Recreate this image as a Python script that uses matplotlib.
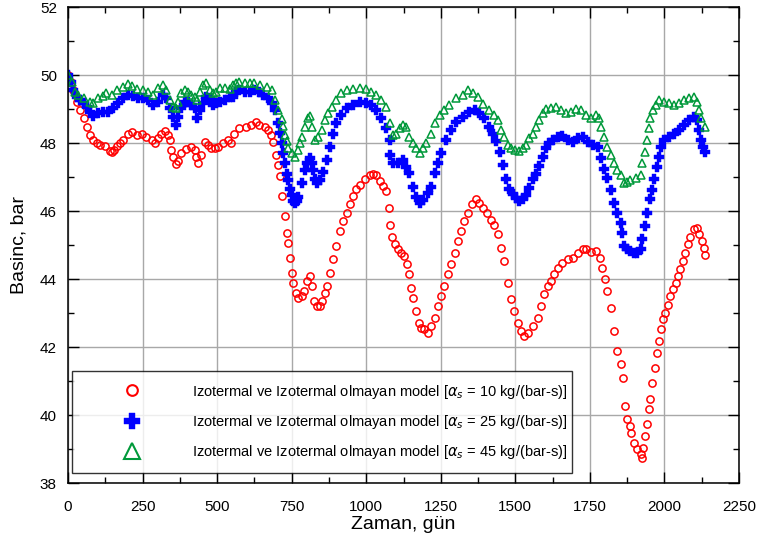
import numpy as np
import matplotlib
matplotlib.use("Agg")
import matplotlib.pyplot as plt
from matplotlib.lines import Line2D
from matplotlib.ticker import MultipleLocator

plt.rcParams['font.family'] = ['Liberation Sans', 'DejaVu Sans']

# alpha_s = 10 kg/(bar-s)
red_day = [0, 9, 18, 29, 40, 52, 63, 74, 85, 96, 107, 124, 140, 146, 155, 163, 174, 185, 202, 213,
           230, 247, 263, 280, 291, 302, 313, 324, 335, 341, 347, 352, 361, 369, 380, 397, 413, 425, 430, 436,
           447, 458, 469, 480, 492, 503, 519, 536, 547, 558, 575, 597, 614, 631, 642, 659, 670, 681, 687, 698,
           703, 711, 719, 726, 733, 739, 744, 750, 756, 764, 772, 783, 791, 800, 811, 817, 825, 834, 845, 853,
           861, 869, 878, 889, 900, 911, 923, 934, 945, 956, 967, 978, 995, 1012, 1023, 1034, 1045, 1056, 1067, 1076,
           1081, 1087, 1095, 1106, 1117, 1128, 1136, 1143, 1151, 1156, 1168, 1177, 1184, 1195, 1207, 1218, 1229, 1240, 1251, 1262,
           1274, 1285, 1296, 1307, 1318, 1329, 1340, 1355, 1368, 1379, 1390, 1404, 1418, 1430, 1441, 1452, 1463, 1474, 1485, 1497,
           1508, 1519, 1530, 1541, 1558, 1575, 1586, 1597, 1608, 1619, 1630, 1642, 1658, 1675, 1692, 1709, 1726, 1737, 1753, 1770,
           1783, 1792, 1801, 1808, 1820, 1831, 1842, 1853, 1861, 1866, 1875, 1883, 1889, 1897, 1909, 1920, 1925, 1929, 1934, 1942,
           1948, 1953, 1959, 1967, 1976, 1981, 1987, 1994, 2003, 2012, 2020, 2028, 2037, 2046, 2053, 2061, 2070, 2079, 2087, 2098,
           2109, 2115, 2126, 2131, 2135]
red_p = [50.0, 49.8, 49.56, 49.2, 48.97, 48.73, 48.48, 48.24, 48.09, 47.99, 47.94, 47.9, 47.77, 47.75, 47.8, 47.9, 48.0, 48.09, 48.28, 48.33,
         48.24, 48.26, 48.19, 48.09, 47.99, 48.14, 48.26, 48.36, 48.24, 48.09, 47.79, 47.6, 47.38, 47.48, 47.7, 47.81, 47.89, 47.79, 47.6, 47.42,
         47.65, 48.04, 47.94, 47.84, 47.84, 47.89, 47.99, 48.09, 48.01, 48.28, 48.43, 48.48, 48.53, 48.63, 48.53, 48.48, 48.38, 48.24, 48.04, 47.65,
         47.35, 47.03, 46.44, 45.85, 45.36, 45.07, 44.63, 44.19, 43.89, 43.6, 43.45, 43.5, 43.65, 43.94, 44.09, 43.79, 43.35, 43.2, 43.2, 43.35,
         43.6, 43.79, 44.19, 44.58, 44.97, 45.41, 45.71, 45.95, 46.2, 46.44, 46.64, 46.78, 46.93, 47.05, 47.08, 47.05, 46.88, 46.74, 46.59, 46.1,
         45.58, 45.25, 45.02, 44.87, 44.77, 44.68, 44.43, 44.14, 43.75, 43.45, 43.06, 42.72, 42.57, 42.52, 42.42, 42.62, 42.86, 43.2, 43.5, 43.79,
         44.14, 44.43, 44.77, 45.12, 45.41, 45.71, 45.95, 46.2, 46.34, 46.25, 46.1, 45.95, 45.75, 45.6, 45.31, 44.92, 44.53, 43.89, 43.4, 43.06,
         42.72, 42.47, 42.32, 42.42, 42.62, 42.86, 43.2, 43.55, 43.79, 43.94, 44.14, 44.33, 44.48, 44.58, 44.63, 44.77, 44.87, 44.87, 44.79, 44.82,
         44.63, 44.33, 43.99, 43.65, 43.16, 42.47, 41.88, 41.49, 41.1, 40.26, 39.87, 39.68, 39.48, 39.19, 38.99, 38.84, 38.75, 39.04, 39.38, 39.73,
         40.17, 40.46, 40.95, 41.39, 41.83, 42.18, 42.52, 42.81, 43.01, 43.25, 43.5, 43.7, 43.89, 44.09, 44.28, 44.53, 44.77, 45.02, 45.25, 45.46,
         45.51, 45.31, 45.12, 44.92, 44.7]

# alpha_s = 25 kg/(bar-s)
blue_day = [0, 9, 18, 29, 40, 52, 63, 74, 85, 101, 118, 135, 152, 168, 185, 202, 219, 235, 252, 269,
            286, 302, 319, 330, 341, 352, 361, 369, 380, 391, 402, 413, 425, 433, 441, 452, 463, 475, 486, 497,
            508, 525, 542, 553, 564, 575, 592, 609, 625, 642, 655, 672, 683, 694, 705, 711, 716, 722, 728, 733,
            739, 745, 750, 756, 761, 767, 772, 783, 795, 803, 811, 817, 822, 828, 834, 845, 856, 867, 878, 889,
            900, 917, 934, 956, 978, 1000, 1017, 1034, 1051, 1067, 1078, 1081, 1090, 1106, 1123, 1134, 1145, 1156, 1168, 1179,
            1190, 1207, 1218, 1229, 1240, 1251, 1268, 1285, 1301, 1324, 1346, 1363, 1379, 1396, 1413, 1424, 1435, 1447, 1458, 1469,
            1480, 1491, 1502, 1513, 1525, 1536, 1547, 1558, 1569, 1580, 1591, 1602, 1614, 1625, 1642, 1658, 1675, 1692, 1709, 1726,
            1742, 1759, 1776, 1787, 1797, 1808, 1820, 1831, 1842, 1853, 1858, 1864, 1875, 1886, 1897, 1909, 1920, 1925, 1933, 1942,
            1950, 1957, 1964, 1976, 1981, 1987, 1998, 2014, 2031, 2048, 2065, 2081, 2098, 2109, 2117, 2124, 2128, 2135]
blue_p = [50.0, 49.8, 49.56, 49.36, 49.27, 49.17, 49.05, 48.92, 48.8, 48.87, 48.92, 48.92, 49.02, 49.17, 49.31, 49.41, 49.38, 49.31, 49.31, 49.26,
          49.12, 49.22, 49.41, 49.31, 49.02, 48.77, 48.53, 48.77, 49.02, 49.22, 49.22, 49.12, 49.02, 48.75, 48.97, 49.17, 49.36, 49.31, 49.12, 49.17,
          49.22, 49.26, 49.36, 49.36, 49.51, 49.56, 49.51, 49.51, 49.56, 49.51, 49.41, 49.31, 49.17, 48.97, 48.6, 48.3, 48.0, 47.7, 47.4, 47.1,
          46.9, 46.65, 46.47, 46.3, 46.23, 46.3, 46.42, 46.81, 47.2, 47.4, 47.55, 47.4, 47.2, 46.95, 46.81, 46.91, 47.16, 47.5, 47.89, 48.28,
          48.58, 48.82, 49.02, 49.12, 49.22, 49.19, 49.12, 48.97, 48.73, 48.43, 48.09, 47.65, 47.4, 47.4, 47.5, 47.3, 47.11, 46.71, 46.42, 46.23,
          46.32, 46.52, 46.71, 47.11, 47.4, 47.7, 48.09, 48.38, 48.63, 48.77, 48.92, 48.97, 48.87, 48.73, 48.48, 48.28, 48.05, 47.75, 47.35, 46.95,
          46.64, 46.49, 46.38, 46.3, 46.34, 46.48, 46.69, 46.93, 47.1, 47.32, 47.6, 47.85, 48.0, 48.09, 48.19, 48.21, 48.09, 48.04, 48.14, 48.19,
          48.04, 47.94, 47.89, 47.55, 47.25, 46.96, 46.62, 46.23, 45.93, 45.64, 45.36, 44.97, 44.87, 44.82, 44.77, 44.77, 44.87, 45.17, 45.56, 45.95,
          46.34, 46.62, 46.95, 47.3, 47.6, 47.89, 48.09, 48.19, 48.28, 48.38, 48.53, 48.68, 48.77, 48.68, 48.38, 48.09, 47.89, 47.75]

# alpha_s = 45 kg/(bar-s)
green_day = [0, 13, 24, 35, 52, 74, 85, 101, 118, 129, 146, 163, 185, 202, 213, 230, 252, 269, 286, 302,
             319, 330, 341, 352, 361, 369, 380, 391, 402, 413, 425, 433, 441, 452, 463, 475, 486, 497, 508, 525,
             542, 553, 564, 575, 592, 609, 625, 644, 666, 683, 694, 705, 716, 722, 728, 734, 739, 750, 761, 772,
             778, 783, 795, 806, 811, 817, 828, 839, 850, 861, 872, 884, 900, 917, 934, 956, 978, 1000, 1017, 1034,
             1051, 1067, 1078, 1090, 1101, 1112, 1123, 1134, 1145, 1156, 1168, 1179, 1190, 1201, 1218, 1229, 1246, 1262, 1279, 1301,
             1324, 1340, 1357, 1374, 1390, 1413, 1430, 1441, 1452, 1463, 1474, 1485, 1500, 1513, 1525, 1536, 1547, 1558, 1569, 1580,
             1591, 1602, 1619, 1636, 1653, 1670, 1686, 1703, 1720, 1737, 1753, 1770, 1781, 1787, 1797, 1808, 1820, 1831, 1842, 1853,
             1864, 1875, 1886, 1903, 1920, 1925, 1933, 1942, 1948, 1953, 1961, 1970, 1981, 1998, 2014, 2031, 2048, 2065, 2081, 2098,
             2109, 2115, 2124, 2137]
green_p = [50.0, 49.8, 49.51, 49.41, 49.31, 49.22, 49.19, 49.31, 49.38, 49.46, 49.41, 49.56, 49.66, 49.74, 49.68, 49.58, 49.56, 49.51, 49.41, 49.61,
           49.71, 49.56, 49.27, 49.07, 49.02, 49.22, 49.46, 49.56, 49.51, 49.41, 49.36, 49.27, 49.51, 49.71, 49.77, 49.56, 49.46, 49.51, 49.61, 49.61,
           49.58, 49.71, 49.76, 49.8, 49.76, 49.76, 49.77, 49.71, 49.66, 49.56, 49.26, 48.97, 48.7, 48.5, 48.25, 48.05, 47.85, 47.7, 47.6, 47.79,
           47.99, 48.19, 48.48, 48.73, 48.79, 48.48, 48.09, 48.19, 48.38, 48.68, 48.87, 49.07, 49.26, 49.46, 49.56, 49.58, 49.61, 49.58, 49.51, 49.41,
           49.26, 49.07, 48.58, 48.24, 48.28, 48.43, 48.53, 48.48, 48.19, 47.99, 47.84, 47.7, 47.84, 47.99, 48.28, 48.58, 48.82, 48.97, 49.12, 49.31,
           49.41, 49.56, 49.46, 49.36, 49.15, 48.97, 48.82, 48.68, 48.38, 48.19, 47.94, 47.84, 47.79, 47.77, 47.84, 47.94, 48.14, 48.28, 48.48, 48.68,
           48.87, 48.99, 49.02, 49.05, 48.97, 48.89, 48.92, 48.99, 48.97, 48.82, 48.75, 48.82, 48.73, 48.48, 48.19, 47.89, 47.65, 47.4, 47.21, 47.06,
           46.81, 46.86, 46.91, 46.96, 47.06, 47.4, 47.75, 48.09, 48.43, 48.73, 48.97, 49.12, 49.26, 49.22, 49.17, 49.12, 49.17, 49.26, 49.31, 49.36,
           49.22, 48.97, 48.73, 48.48]

labels = [r'Izotermal ve Izotermal olmayan model [$\alpha_s$ = 10 kg/(bar-s)]',
          r'Izotermal ve Izotermal olmayan model [$\alpha_s$ = 25 kg/(bar-s)]',
          r'Izotermal ve Izotermal olmayan model [$\alpha_s$ = 45 kg/(bar-s)]']

red = '#ff0000'
blue = '#0000ff'
green = '#00993a'

fig = plt.figure(figsize=(7.58, 5.41), dpi=100)
ax = fig.add_axes([0.0897, 0.1072, 0.8853, 0.8798])

ax.plot(red_day, red_p, linestyle='none', marker='o', ms=5.2, mfc='none', mec=red, mew=1.1)
ax.plot(blue_day, blue_p, linestyle='none', marker='P', ms=6.5, mfc=blue, mec=blue, mew=0.3)
ax.plot(green_day, green_p, linestyle='none', marker='^', ms=5.5, mfc='none', mec=green, mew=1.1)

ax.set_xlim(0, 2250)
ax.set_ylim(38, 52)
ax.xaxis.set_major_locator(MultipleLocator(250))
ax.xaxis.set_minor_locator(MultipleLocator(125))
ax.yaxis.set_major_locator(MultipleLocator(2))
ax.yaxis.set_minor_locator(MultipleLocator(1))
ax.grid(True, which='major', color='#a8a8a8', linewidth=1.0)
ax.set_axisbelow(True)
ax.tick_params(which='both', direction='in', top=True, right=True, labelsize=11, colors='black')
ax.tick_params(which='major', length=8, width=1.0)
ax.tick_params(which='minor', length=4, width=1.0)
ax.tick_params(axis='x', pad=12)
ax.tick_params(axis='y', pad=8)
for s in ax.spines.values():
    s.set_linewidth(1.1)

ax.set_xlabel('Zaman, gün', fontsize=14, labelpad=2)
ax.set_ylabel('Basinc, bar', fontsize=14, labelpad=9)

handles = [Line2D([], [], linestyle='none', marker='o', ms=7.7, mfc='none', mec=red, mew=1.5),
           Line2D([], [], linestyle='none', marker='P', ms=12, mfc=blue, mec=blue, mew=0.3),
           Line2D([], [], linestyle='none', marker='^', ms=11, mfc='none', mec=green, mew=1.5)]
leg = ax.legend(handles, labels, loc='lower left', bbox_to_anchor=(0.006, 0.021, 0.745, 0.212),
                mode='expand', fontsize=10.5, frameon=True, fancybox=False, edgecolor='black',
                handlelength=6.6, handletextpad=0.8, borderpad=0.8, labelspacing=0.85,
                borderaxespad=0)
leg.get_frame().set_linewidth(1.0)

fig.savefig('out.png', dpi=100)
